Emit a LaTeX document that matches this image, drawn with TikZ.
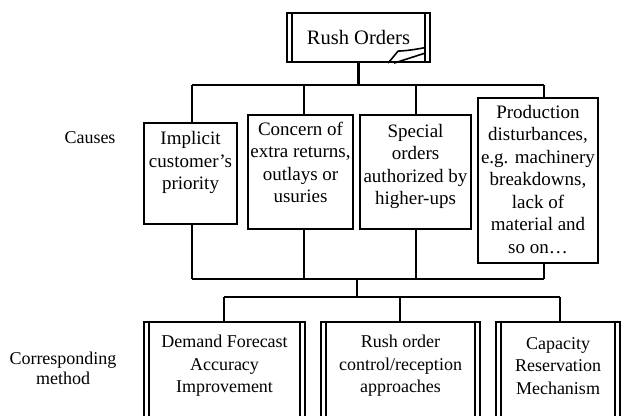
\documentclass[tikz,border=0pt]{standalone}
\usepackage{fontspec}
\setmainfont{Liberation Serif}
\begin{document}
\begin{tikzpicture}[x=1pt,y=-1pt,line width=2.2pt,
  box/.style={draw,rectangle,inner sep=0pt},
  ctxt/.style={align=center,inner sep=0pt,font=\fontsize{19}{22.5}\selectfont},
  mtxt/.style={align=center,inner sep=0pt,font=\fontsize{18}{22.5}\selectfont},
  lbl/.style={align=center,inner sep=0pt,font=\fontsize{18}{20}\selectfont},
  curl/.style={line width=1.6pt}]
\clip (0,0) rectangle (621,415);
% top box
\node[box,minimum width=143pt,minimum height=49pt,font=\fontsize{20.5}{24}\selectfont] (R) at (358.5,37.5) {Rush Orders};
\draw ([xshift=6pt]R.north west) -- ([xshift=6pt]R.south west);
\draw ([xshift=-6pt]R.north east) -- ([xshift=-6pt]R.south east);
\draw[curl] ([xshift=-43pt]R.south east) -- ([shift={(-33pt,12pt)}]R.south east)
  .. controls ([shift={(-22pt,12.5pt)}]R.south east) and ([shift={(-14pt,14pt)}]R.south east) .. ([shift={(-6pt,15.5pt)}]R.south east);
\draw[curl] ([xshift=-37pt]R.south east) -- ([shift={(-6pt,10pt)}]R.south east);
% causes
\node[box,minimum width=93pt,minimum height=101pt] (c1) at (190.5,173.5) {};
\node[box,minimum width=105pt,minimum height=114pt] (c2) at (300.5,172) {};
\node[box,minimum width=111pt,minimum height=114pt] (c3) at (415.5,172) {};
\node[box,minimum width=120pt,minimum height=165pt] (c4) at (538,180.5) {};
\node[ctxt] (c1t) at (190.5,162.5) {Implicit\\customer’s\\priority};
\node[ctxt] (c2t) at (300.5,162.5) {Concern of\\extra returns,\\outlays or\\usuries};
\node[ctxt] (c3t) at (415.5,166.5) {Special\\orders\\authorized by\\higher-ups};
\node[ctxt] (c4t) at (538,179.5) {Production\\disturbances,\\e.g. machinery\\breakdowns,\\lack of\\material and\\so on…};
\node[lbl] (causes) at (90,138) {Causes};
% top bus
\coordinate (t1) at (192,85);
\coordinate (t2) at (304,85);
\coordinate (t3) at (416,85);
\coordinate (t4) at (544,85);
\draw (t1) -- (t4);
\draw (R.south) -- (R.south |- t1);
\draw (t1) -- (t1 |- c1.north);
\draw (t2) -- (t2 |- c2.north);
\draw (t3) -- (t3 |- c3.north);
\draw (t4) -- (t4 |- c4.north);
% bottom bus
\coordinate (u1) at (192,279);
\coordinate (u2) at (304,279);
\coordinate (u3) at (416,279);
\coordinate (u4) at (544,279);
\draw (u1) -- (u4);
\draw (u1 |- c1.south) -- (u1);
\draw (u2 |- c2.south) -- (u2);
\draw (u3 |- c3.south) -- (u3);
\draw (u4 |- c4.south) -- (u4);
\coordinate (v) at (357,279);
\coordinate (w) at (357,297);
\draw (v) -- (w);
% methods
\node[box,minimum width=161pt,minimum height=108pt] (m1) at (224.5,376) {};
\node[box,minimum width=159pt,minimum height=108pt] (m2) at (400.5,376) {};
\node[box,minimum width=124pt,minimum height=108pt] (m3) at (558,376) {};
\foreach \m in {m1,m2,m3}{
  \draw ([xshift=6pt]\m.north west) -- ([xshift=6pt]\m.south west);
  \draw ([xshift=-6pt]\m.north east) -- ([xshift=-6pt]\m.south east);
}
\node[mtxt] (m1t) at (224.5,366) {Demand Forecast\\Accuracy\\Improvement};
\node[mtxt] (m2t) at (400.5,366) {Rush order\\control/reception\\approaches};
\node[mtxt] (m3t) at (558,366) {Capacity\\Reservation\\Mechanism};
\node[lbl] (cm) at (63,368) {Corresponding\\method};
\coordinate (w1) at (224,297);
\coordinate (w2) at (400,297);
\coordinate (w3) at (560,297);
\draw (w1) -- (w3);
\draw (w1) -- (w1 |- m1.north);
\draw (w2) -- (w2 |- m2.north);
\draw (w3) -- (w3 |- m3.north);
\end{tikzpicture}
\end{document}
